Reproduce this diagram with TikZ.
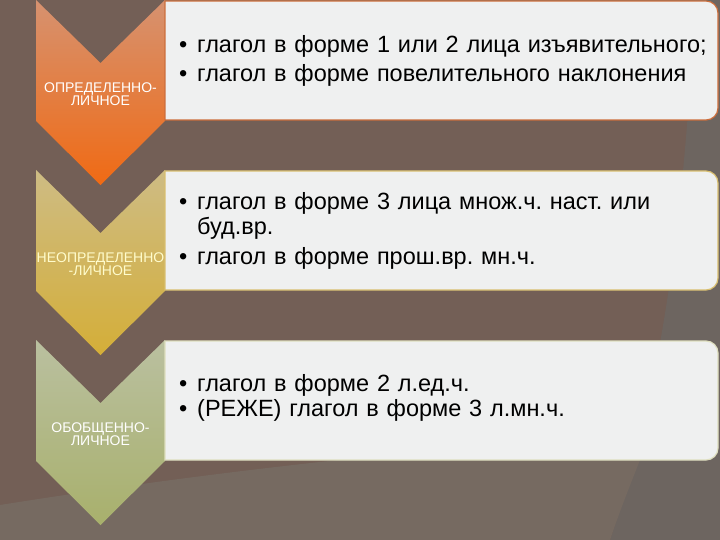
\documentclass[tikz,border=0pt]{standalone}
\usepackage{fontspec}
\setmainfont{Liberation Sans}
\definecolor{bgbrown}{HTML}{735F56}
\definecolor{bggray}{HTML}{6D6560}
\definecolor{bglight}{HTML}{766A61}
\definecolor{boxfill}{HTML}{EFF0F0}
\newcommand\Item[1]{\hangindent=18pt\hangafter=1\noindent\makebox[18pt][l]{\textbullet}#1}
\begin{document}
\begin{tikzpicture}[x=1pt,y=-1pt]
	\tikzset{
		chev/.style={draw=none},
		box/.style={fill=boxfill, line width=1.2pt},
		tag/.style={align=center, inner sep=0pt, font=\fontsize{14}{13.3}\selectfont},
		items/.style={anchor=north west, inner sep=0pt, text width=540pt, align=left},
	}
	\def\Chev(#1){(36,#1) -- (100.5,#1+63) -- (165,#1) -- (165,#1+121) -- (100.5,#1+185) -- (36,#1+121) -- cycle}
	\def\Box(#1){(165,#1+1) [rounded corners=12pt] -- (718,#1+1) -- (718,#1+120) [sharp corners] -- (165,#1+120) -- cycle}

	% Background and its faint arcs.
	\useasboundingbox (0,0) rectangle (720,540);
	\fill[bgbrown] (0,0) rectangle (720,540);
	\fill[bggray] (695,0) .. controls (685,200) and (665,380) .. (610,540) -- (720,540) -- (720,0) -- cycle;
	\fill[bglight] (0,505) .. controls (220,470) and (450,445) .. (650,435) .. controls (632,480) and (620,510) .. (610,540) -- (0,540) -- cycle;

	% The three chevrons, one under the other.
	\shade[chev, top color={rgb,255:red,214;green,146;blue,112}, middle color={rgb,255:red,196;green,98;blue,44}, bottom color={rgb,255:red,240;green,106;blue,20}] \Chev(0);
	\shade[chev, top color={rgb,255:red,206;green,188;blue,132}, middle color={rgb,255:red,166;green,142;blue,62}, bottom color={rgb,255:red,212;green,174;blue,56}] \Chev(170);
	\shade[chev, top color={rgb,255:red,186;green,192;blue,160}, middle color={rgb,255:red,130;green,138;blue,88}, bottom color={rgb,255:red,168;green,176;blue,108}] \Chev(340);

	% The boxes to the right of them.
	\draw[box, draw={rgb,255:red,204;green,110;blue,60}] \Box(0);
	\draw[box, draw={rgb,255:red,216;green,190;blue,110}] \Box(170);
	\draw[box, draw={rgb,255:red,222;green,222;blue,190}] \Box(340);

	% Labels on the chevrons.
	\node[tag, text=white] (opr) at (100.5,94) {ОПРЕДЕЛЕННО-\\ЛИЧНОЕ};
	\node[tag, text=yellow!20!white] (neopr) at (100.5,264) {НЕОПРЕДЕЛЕННО\\-ЛИЧНОЕ};
	\node[tag, text=white] (obob) at (100.5,434) {ОБОБЩЕННО-\\ЛИЧНОЕ};

	% Texts in the boxes.
	\node[items, font=\fontsize{23.5}{29}\selectfont\frenchspacing] (oprtext) at (179,35.5) {%
		\Item{глагол в форме 1 или 2 лица изъявительного;}\par
		\Item{глагол в форме повелительного наклонения}};
	\node[items, font=\fontsize{23.5}{25}\selectfont\frenchspacing] (neoprtext) at (179,192.5) {%
		\setlength{\parskip}{5pt}%
		\Item{глагол в форме 3 лица множ.ч. наст. или буд.вр.}\par
		\Item{глагол в форме прош.вр. мн.ч.}};
	\node[items, font=\fontsize{23.5}{25}\selectfont\frenchspacing] (obobtext) at (179,374.5) {%
		\Item{глагол в форме 2 л.ед.ч.}\par
		\Item{(РЕЖЕ) глагол в форме 3 л.мн.ч.}};
\end{tikzpicture}
\end{document}
